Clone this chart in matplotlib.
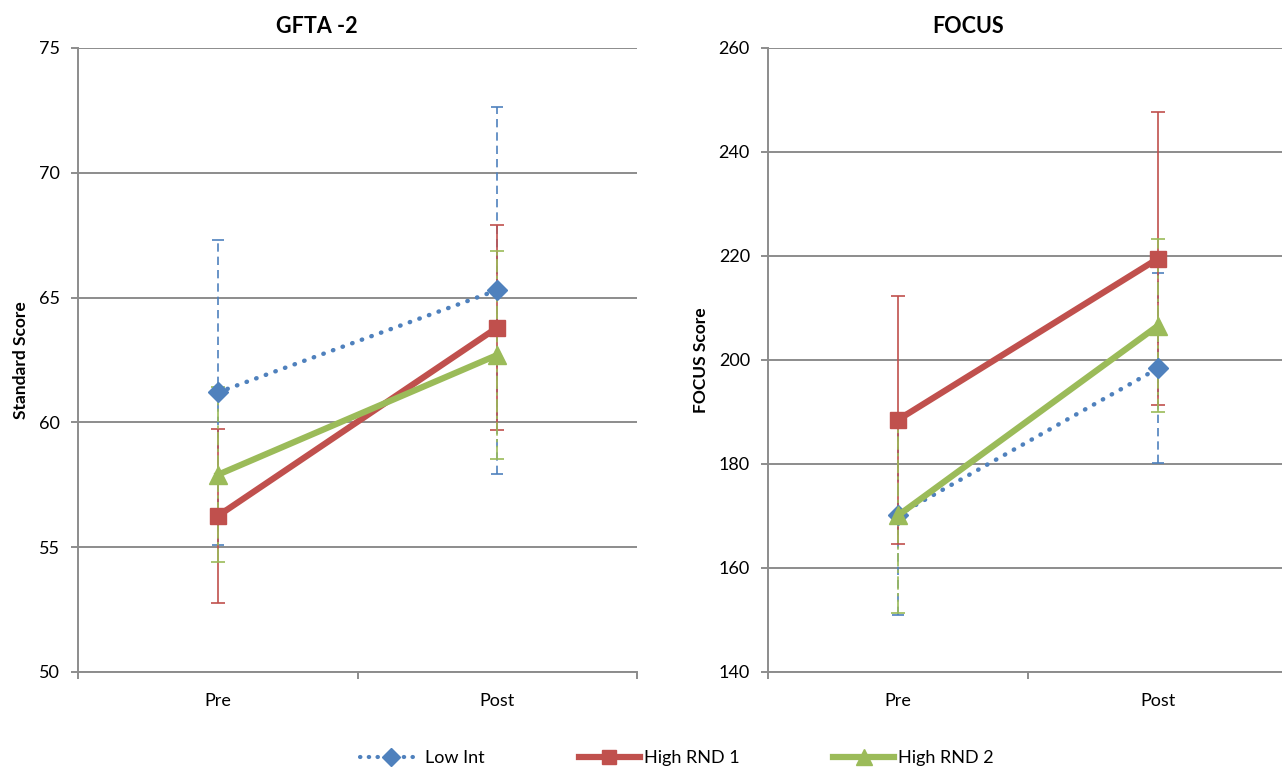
import matplotlib
matplotlib.use("Agg")
import matplotlib.pyplot as plt
from matplotlib.lines import Line2D

plt.rcParams['font.family'] = ['Lato', 'DejaVu Sans']

categories = ["Pre", "Post"]
series_names = ["Low Int", "High RND 1", "High RND 2"]

# GFTA-2 panel
gfta_low = [61.2, 65.3]
gfta_low_err = [6.1, 7.35]
gfta_rnd1 = [56.25, 63.8]
gfta_rnd1_err = [3.5, 4.1]
gfta_rnd2 = [57.9, 62.7]
gfta_rnd2_err = [3.5, 4.15]

# FOCUS panel
focus_low = [170.2, 198.4]
focus_low_err = [19.2, 18.3]
focus_rnd1 = [188.5, 219.5]
focus_rnd1_err = [23.9, 28.1]
focus_rnd2 = [170.1, 206.6]
focus_rnd2_err = [18.7, 16.6]

gfta_ticks = [50, 55, 60, 65, 70, 75]
focus_ticks = [140, 160, 180, 200, 220, 240, 260]

BLUE = "#4F81BD"
RED = "#C0504D"
GREEN = "#9BBB59"
GRID = "#8C8C8C"

W, H = 1282, 769
fig = plt.figure(figsize=(W / 100, H / 100), dpi=100)

def px_axes(x0, x1, ytop, ybot):
    return fig.add_axes([x0 / W, 1 - ybot / H, (x1 - x0) / W, (ybot - ytop) / H])

ax1 = px_axes(78, 637, 48, 672)
ax2 = px_axes(768, 1288, 48, 672)

def draw(ax, low, lowe, r1, r1e, r2, r2e, ticks, title, ylabel):
    x = list(range(len(categories)))
    # error bars
    eb = ax.errorbar(x, low, yerr=lowe, fmt='none', ecolor=BLUE, elinewidth=1.2,
                     capsize=4, capthick=1.2, zorder=3)
    eb[2][0].set_linestyle((0, (5, 3)))
    eb = ax.errorbar(x, r1, yerr=r1e, fmt='none', ecolor=RED, elinewidth=1.2,
                     capsize=5, capthick=1.2, zorder=3)
    eb = ax.errorbar(x, r2, yerr=r2e, fmt='none', ecolor=GREEN, elinewidth=1.2,
                     capsize=5, capthick=1.2, zorder=3)
    eb[2][0].set_linestyle((0, (8, 2, 2, 2)))
    # lines
    ax.plot(x, low, color=BLUE, lw=3.2, linestyle=(0, (0.1, 2.2)), dash_capstyle='round',
            solid_capstyle='round', marker='D', markersize=10, zorder=4,
            label=series_names[0])
    ax.plot(x, r1, color=RED, lw=4.5, marker='s', markersize=12, zorder=5,
            label=series_names[1])
    ax.plot(x, r2, color=GREEN, lw=4.5, marker='^', markersize=13, zorder=6,
            label=series_names[2])

    ax.set_xlim(-0.5, len(categories) - 0.5)
    ax.set_ylim(ticks[0], ticks[-1])
    ax.set_yticks(ticks)
    ax.set_yticklabels([str(t) for t in ticks], fontsize=13)
    ax.yaxis.grid(True, color=GRID, lw=1.4)
    ax.set_axisbelow(True)
    ax.set_xticks([-0.5 + i for i in range(len(categories) + 1)])
    ax.set_xticklabels([])
    ax.set_xticks(x, minor=True)
    ax.set_xticklabels(categories, minor=True, fontsize=13)
    ax.tick_params(axis='x', which='minor', length=0, pad=15)
    ax.tick_params(axis='x', which='major', length=5, color=GRID, width=1.4)
    ax.tick_params(axis='y', length=5, color=GRID, width=1.4, pad=8)
    for s in ['top', 'right']:
        ax.spines[s].set_visible(False)
    ax.spines['left'].set_color(GRID)
    ax.spines['left'].set_linewidth(1.4)
    ax.spines['bottom'].set_color(GRID)
    ax.spines['bottom'].set_linewidth(1.4)
    ax.set_title(title, fontsize=15.5, fontweight='bold', pad=11)
    ax.set_ylabel(ylabel, fontsize=12.5, fontweight='bold', labelpad=7)

draw(ax1, gfta_low, gfta_low_err, gfta_rnd1, gfta_rnd1_err, gfta_rnd2, gfta_rnd2_err,
     gfta_ticks, "GFTA -2", "Standard Score")
draw(ax2, focus_low, focus_low_err, focus_rnd1, focus_rnd1_err, focus_rnd2, focus_rnd2_err,
     focus_ticks, "FOCUS", "FOCUS Score")
ax1.title.set_position((0.428, 1.0))
ax2.title.set_position((0.385, 1.0))

handles = [
    Line2D([], [], color=BLUE, lw=3, linestyle=(0, (0.1, 2.0)), dash_capstyle='round',
           marker='D', markersize=9),
    Line2D([], [], color=RED, lw=4.5, marker='s', markersize=10),
    Line2D([], [], color=GREEN, lw=4.5, marker='^', markersize=11),
]
fig.legend(handles, series_names, loc='center', bbox_to_anchor=(0.528, 1 - 758 / H),
           ncol=3, frameon=False, fontsize=13, handlelength=3.4, handletextpad=0.2,
           columnspacing=5.2)

fig.savefig("out.png", dpi=100)
